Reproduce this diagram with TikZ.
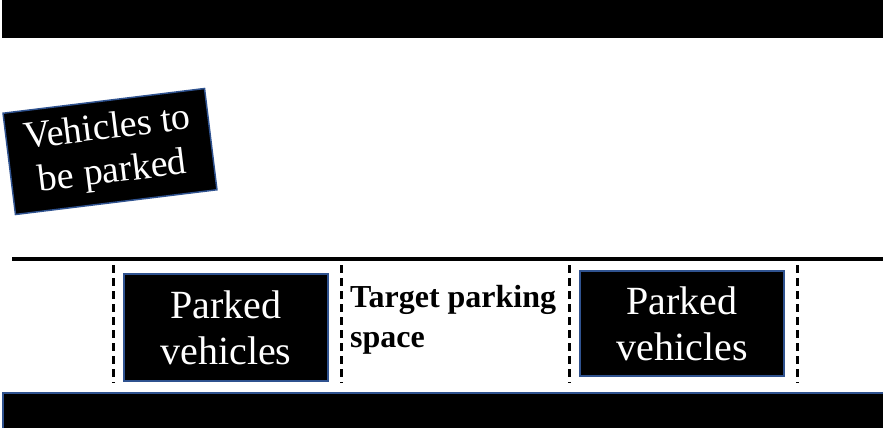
\documentclass[tikz,border=0pt]{standalone}
\usepackage{fontspec}
\setmainfont{Liberation Serif}
\begin{document}
\begin{tikzpicture}[x=1pt,y=-1pt,
  car/.style={draw={rgb,255:red,47;green,82;blue,143},line width=1.5pt,fill=black,text=white,align=center,font=\fontsize{40}{46}\selectfont,inner sep=0pt},
  sep/.style={line width=3pt,dash pattern=on 8pt off 5pt}]
\useasboundingbox (0,0) rectangle (883,428);
\fill (2,0) rectangle (883,38);
\draw[fill=black,draw={rgb,255:red,47;green,82;blue,143},line width=1.5pt] (3,393) rectangle (885,430);
\draw[line width=4pt] (12,259) -- (883,259);
\foreach \x/\n in {113/a,341/b,569/c,797/d}{
  \coordinate (\n1) at (\x,265); \coordinate (\n2) at (\x,383);
  \draw[sep] (\n1) -- (\n2);}
\node[car,minimum width=204pt,minimum height=107pt] (p1) at (226,327.5) {Parked\\vehicles};
\node[car,minimum width=204pt,minimum height=105pt] (p2) at (682,323.5) {Parked\\vehicles};
\node[car,minimum width=203pt,minimum height=102pt,rotate=7,font=\fontsize{38}{44}\selectfont] (v) at (110,151.5) {Vehicles to\\be parked};
\node[align=left,font=\bfseries\fontsize{32}{40}\selectfont,anchor=north west,inner sep=0pt] (t) at (350,285) {Target parking\\space};
\end{tikzpicture}
\end{document}
